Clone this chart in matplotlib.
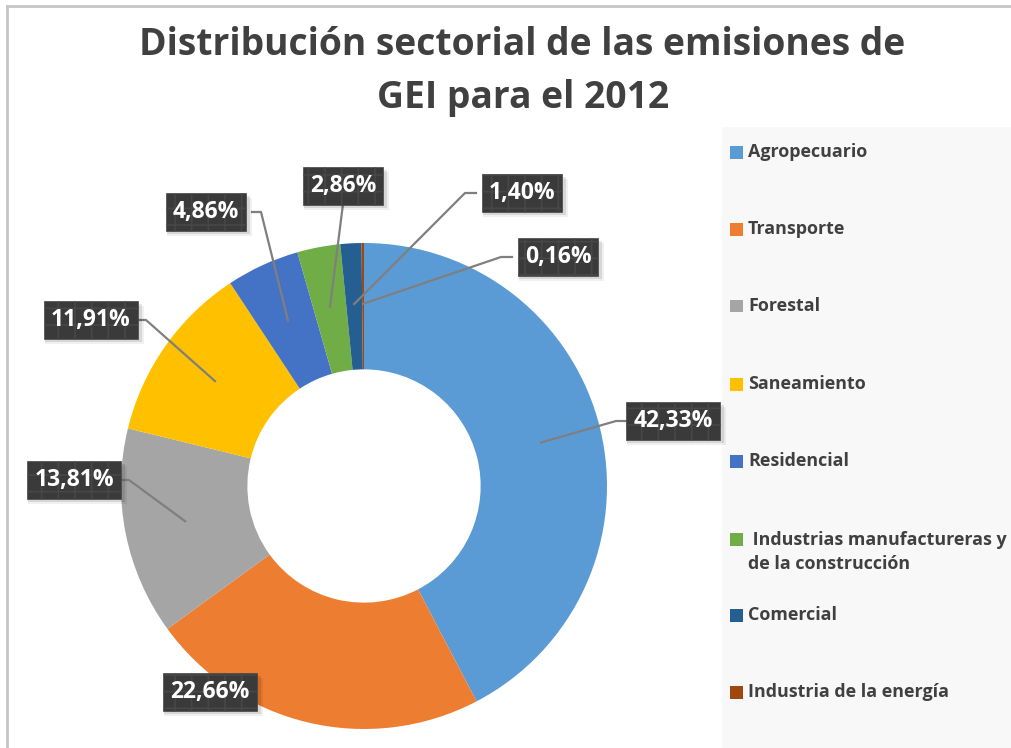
import numpy as np
import matplotlib
matplotlib.use('Agg')
import matplotlib.pyplot as plt
from matplotlib.patches import Rectangle
from matplotlib.lines import Line2D

plt.rcParams['font.family'] = ['Open Sans', 'DejaVu Sans']
plt.rcParams['hatch.linewidth'] = 1.2

sectors = ['Agropecuario', 'Transporte', 'Forestal', 'Saneamiento', 'Residencial',
           ' Industrias manufactureras y\nde la construcción', 'Comercial',
           'Industria de la energía']
shares = [42.33, 22.66, 13.81, 11.91, 4.86, 2.86, 1.40, 0.16]
colors = ['#5B9BD5', '#ED7D31', '#A5A5A5', '#FFC000', '#4472C4', '#70AD47',
          '#255E91', '#9E480E']

W, H = 1011, 748
fig = plt.figure(figsize=(W / 100, H / 100), dpi=100)
fig.patch.set_facecolor('white')


def fx(px):
    return px / W


def fy(py):
    return 1 - py / H


# chart border and legend panel
fig.add_artist(Line2D([fx(7), fx(7)], [fy(6), fy(748)], color='#c6c6c6', lw=2))
fig.add_artist(Line2D([fx(7), fx(1011)], [fy(6), fy(6)], color='#c6c6c6', lw=2))
fig.add_artist(Rectangle((fx(722), 0), 1 - fx(722), fy(127), transform=fig.transFigure,
                         facecolor='#f8f8f8', edgecolor='none', zorder=0))

fig.text(fx(522), fy(45), 'Distribución sectorial de las emisiones de',
         ha='center', va='center', fontsize=26.8, fontweight='bold', color='#404040')
fig.text(fx(523), fy(98), 'GEI para el 2012',
         ha='center', va='center', fontsize=26.8, fontweight='bold', color='#404040')

# donut
cx, cy, R = 364, 486, 243
ax = fig.add_axes([fx(cx - R), fy(cy + R), 2 * R / W, 2 * R / H])
wedges, _ = ax.pie(shares, colors=colors, startangle=90, counterclock=False,
                   radius=1, wedgeprops=dict(width=0.52, edgecolor='none'))
ax.set_xlim(-1, 1)
ax.set_ylim(-1, 1)
ax.axis('off')

# label boxes: centre (px) and where the leader line leaves the box
label_pos = [(673, 421), (210, 692), (74, 480), (91, 320), (206, 212),
             (343, 186), (522, 193), (558, 257)]
leader_side = ['left', None, 'right', 'right', 'right', 'bottom', 'left', 'left']
half_w, half_h = 46, 18

labels = []
for w, val, (lx, ly), side in zip(wedges, shares, label_pos, leader_side):
    mid = np.deg2rad((w.theta1 + w.theta2) / 2)
    wx = cx + R * 0.75 * np.cos(mid)
    wy = cy - R * 0.75 * np.sin(mid)
    if side == 'left':
        pts = [(lx - half_w, ly), (lx - half_w - 11, ly), (wx, wy)]
    elif side == 'right':
        pts = [(lx + half_w, ly), (lx + half_w + 9, ly), (wx, wy)]
    elif side == 'bottom':
        pts = [(lx, ly + half_h), (wx, wy)]
    else:
        pts = []
    if pts:
        fig.add_artist(Line2D([fx(p[0]) for p in pts], [fy(p[1]) for p in pts],
                              color='#7f7f7f', lw=1.6, zorder=3))
    txt = f'{val:.2f}%'.replace('.', ',')
    t = fig.text(fx(lx), fy(ly), txt, ha='center', va='center', fontsize=16.5,
                 fontweight='bold', color='white', zorder=5,
                 bbox=dict(boxstyle='square,pad=0.3', facecolor='#3a3a3a',
                           edgecolor='#474747', hatch='+', lw=0.5))
    labels.append(t)

# soft drop shadow under each label box
fig.canvas.draw()
for t in labels:
    bb = t.get_bbox_patch().get_window_extent()
    for k, a in ((5, 0.06), (3, 0.10)):
        fig.add_artist(Rectangle((bb.x0 / W + 1 / W, (bb.y0 - k) / H),
                                 (bb.width + k) / W, bb.height / H,
                                 transform=fig.transFigure, facecolor='black',
                                 alpha=a, edgecolor='none', zorder=4))

# legend
leg_y = [152, 229, 306, 384, 461, 552, 615, 692]
for name, col, y in zip(sectors, colors, leg_y):
    sy = 539 if '\n' in name else y
    fig.add_artist(Rectangle((fx(730), fy(sy + 6.5)), 13 / W, 13 / H,
                             transform=fig.transFigure, facecolor=col,
                             edgecolor='none'))
    fig.text(fx(748), fy(y), name, ha='left', va='center', fontsize=12.9,
             fontweight='bold', color='#404040', linespacing=1.4)

fig.savefig('out.png', dpi=100)
